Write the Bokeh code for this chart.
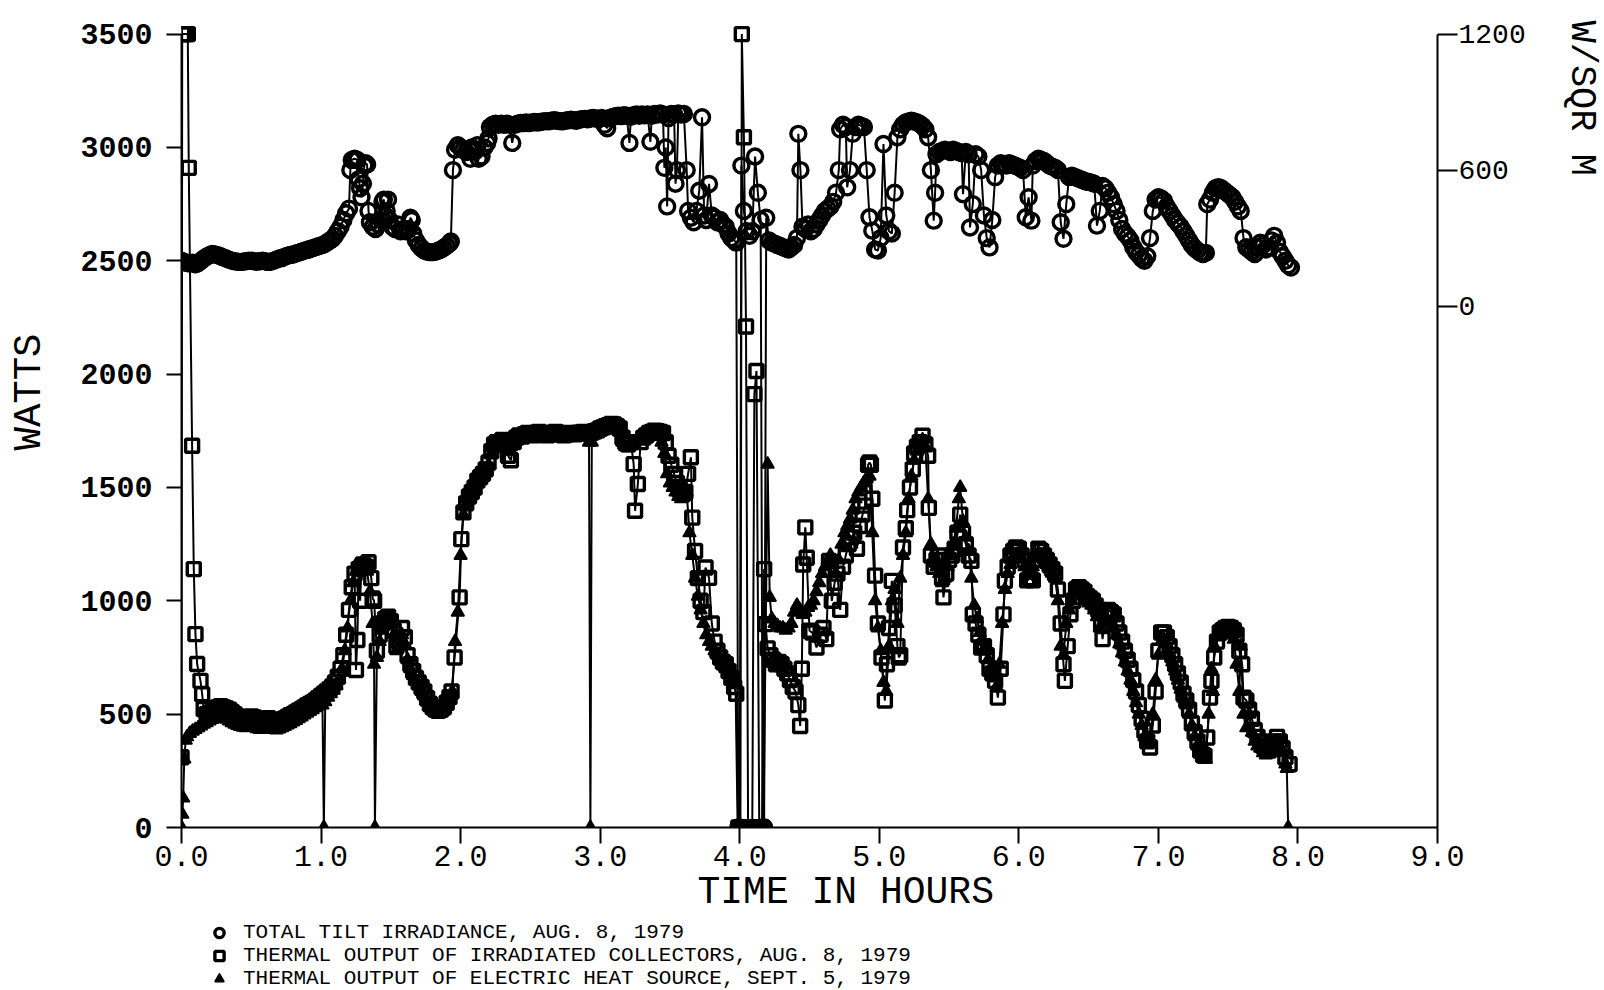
from bokeh.plotting import figure
from bokeh.layouts import column
from bokeh.models import Range1d, LinearAxis, FixedTicker, Legend, LegendItem, Title
from bokeh.embed import file_html
from bokeh.resources import INLINE

# ---------------- data ----------------
# Total tilt irradiance, Aug. 8 1979  (hours, W/sq m); -2300 = samples plotted at chart zero
irr_pts = [
    (0.00, 200), (0.02, 195), (0.04, 190), (0.06, 188), (0.08, 192), (0.10, 185), (0.12, 190), (0.14, 200),
    (0.16, 210), (0.18, 218), (0.20, 225), (0.22, 230), (0.24, 228), (0.26, 225), (0.28, 220), (0.30, 215),
    (0.32, 210), (0.34, 205), (0.36, 200), (0.38, 198), (0.40, 196), (0.42, 195), (0.44, 196), (0.46, 198),
    (0.48, 200), (0.50, 200), (0.52, 198), (0.54, 196), (0.56, 198), (0.58, 200), (0.60, 198), (0.62, 195),
    (0.64, 196), (0.66, 200), (0.68, 205), (0.70, 210), (0.72, 212), (0.74, 218), (0.76, 222), (0.78, 226),
    (0.80, 228), (0.82, 232), (0.84, 236), (0.86, 240), (0.88, 244), (0.90, 248), (0.92, 252), (0.94, 256),
    (0.96, 260), (0.98, 264), (1.00, 268), (1.02, 272), (1.04, 280), (1.06, 288), (1.08, 296), (1.10, 310),
    (1.12, 330), (1.14, 350), (1.16, 380), (1.18, 410), (1.20, 430), (1.21, 600), (1.22, 645), (1.24, 650),
    (1.26, 645), (1.27, 560), (1.28, 520), (1.29, 480), (1.30, 540), (1.31, 620), (1.32, 630), (1.33, 625),
    (1.34, 420), (1.35, 370), (1.37, 350), (1.39, 340), (1.41, 360), (1.43, 380), (1.44, 460), (1.45, 470),
    (1.46, 400), (1.47, 420), (1.48, 470), (1.49, 380), (1.51, 350), (1.53, 340), (1.55, 360), (1.57, 330),
    (1.59, 340), (1.61, 330), (1.63, 340), (1.64, 390), (1.65, 380), (1.66, 320), (1.68, 290), (1.70, 270),
    (1.72, 255), (1.74, 245), (1.76, 240), (1.78, 238), (1.80, 238), (1.82, 240), (1.84, 244), (1.86, 250),
    (1.88, 258), (1.90, 266), (1.92, 276), (1.93, 285), (1.945, 600), (1.96, 690), (1.98, 710), (2.00, 700),
    (2.02, 690), (2.04, 680), (2.06, 690), (2.07, 650), (2.08, 700), (2.10, 690), (2.12, 710), (2.13, 650),
    (2.15, 660), (2.17, 700), (2.19, 720), (2.20, 740), (2.21, 790), (2.23, 800), (2.25, 805), (2.27, 800),
    (2.29, 805), (2.31, 800), (2.33, 805), (2.35, 800), (2.37, 720), (2.39, 800), (2.41, 805), (2.43, 808),
    (2.45, 808), (2.47, 810), (2.49, 808), (2.51, 810), (2.53, 812), (2.55, 810), (2.57, 812), (2.59, 815),
    (2.61, 816), (2.63, 815), (2.65, 818), (2.67, 820), (2.69, 818), (2.71, 816), (2.73, 815), (2.75, 818),
    (2.77, 820), (2.79, 822), (2.81, 820), (2.83, 818), (2.85, 822), (2.87, 825), (2.89, 826), (2.91, 824),
    (2.93, 828), (2.95, 830), (2.97, 828), (2.99, 826), (3.01, 830), (3.03, 800), (3.05, 785), (3.07, 830),
    (3.09, 835), (3.11, 838), (3.13, 840), (3.15, 838), (3.17, 842), (3.19, 840), (3.21, 720), (3.22, 835),
    (3.24, 842), (3.26, 845), (3.28, 840), (3.30, 845), (3.32, 842), (3.34, 845), (3.36, 725), (3.37, 840),
    (3.39, 848), (3.41, 845), (3.43, 850), (3.45, 845), (3.46, 610), (3.47, 700), (3.48, 440), (3.49, 830),
    (3.51, 848), (3.53, 845), (3.54, 540), (3.55, 600), (3.56, 850), (3.58, 845), (3.60, 848), (3.62, 600),
    (3.63, 420), (3.65, 390), (3.67, 370), (3.69, 420), (3.71, 509), (3.73, 833), (3.745, 400), (3.76, 380),
    (3.78, 539), (3.80, 400), (3.82, 390), (3.84, 370), (3.86, 380), (3.88, 360), (3.90, 350), (3.92, 320),
    (3.94, 300), (3.96, 290), (3.975, 280), (3.99, -2300), (4.00, -2300), (4.012, 620), (4.03, 420), (4.05, 330),
    (4.07, 310), (4.09, 330), (4.11, 660), (4.13, 500), (4.15, 380), (4.165, -2300), (4.175, -2300), (4.19, 390),
    (4.21, 290), (4.23, 280), (4.25, 275), (4.27, 270), (4.29, 265), (4.31, 260), (4.33, 255), (4.35, 250),
    (4.37, 260), (4.39, 270), (4.41, 300), (4.42, 760), (4.435, 600), (4.45, 350), (4.47, 340), (4.49, 360),
    (4.51, 330), (4.53, 340), (4.55, 360), (4.57, 380), (4.59, 400), (4.61, 420), (4.63, 430), (4.65, 440),
    (4.67, 460), (4.69, 500), (4.71, 600), (4.72, 780), (4.74, 800), (4.76, 790), (4.77, 524), (4.79, 600),
    (4.81, 760), (4.83, 790), (4.85, 800), (4.87, 795), (4.89, 790), (4.91, 600), (4.93, 392), (4.95, 333),
    (4.97, 250), (4.99, 245), (5.01, 300), (5.03, 715), (5.05, 400), (5.07, 330), (5.09, 320), (5.11, 500),
    (5.13, 745), (5.15, 780), (5.17, 800), (5.19, 810), (5.21, 815), (5.23, 818), (5.25, 815), (5.27, 810),
    (5.29, 805), (5.31, 795), (5.33, 780), (5.35, 745), (5.37, 600), (5.39, 377), (5.40, 500), (5.41, 670),
    (5.43, 680), (5.45, 685), (5.47, 690), (5.49, 685), (5.51, 680), (5.53, 690), (5.55, 685), (5.57, 680),
    (5.59, 675), (5.60, 494), (5.62, 680), (5.64, 670), (5.65, 347), (5.67, 450), (5.69, 670), (5.71, 660),
    (5.73, 600), (5.75, 400), (5.77, 300), (5.79, 259), (5.81, 380), (5.83, 569), (5.85, 620), (5.87, 630),
    (5.89, 625), (5.91, 620), (5.93, 630), (5.95, 625), (5.97, 620), (5.99, 615), (6.01, 610), (6.03, 600),
    (6.05, 392), (6.07, 480), (6.09, 377), (6.10, 620), (6.12, 640), (6.14, 650), (6.16, 645), (6.18, 640),
    (6.20, 630), (6.22, 620), (6.24, 615), (6.26, 610), (6.28, 600), (6.30, 370), (6.32, 297), (6.34, 450),
    (6.36, 570), (6.38, 575), (6.40, 570), (6.42, 565), (6.44, 560), (6.46, 555), (6.48, 550), (6.50, 548),
    (6.52, 545), (6.54, 540), (6.56, 355), (6.58, 420), (6.60, 530), (6.62, 520), (6.64, 500), (6.66, 480),
    (6.68, 450), (6.70, 420), (6.72, 380), (6.74, 340), (6.76, 320), (6.78, 307), (6.80, 290), (6.82, 260),
    (6.84, 240), (6.86, 225), (6.88, 210), (6.90, 200), (6.92, 220), (6.94, 300), (6.96, 420), (6.98, 470),
    (7.00, 480), (7.02, 475), (7.04, 465), (7.06, 440), (7.08, 420), (7.10, 400), (7.12, 380), (7.14, 365),
    (7.16, 350), (7.18, 330), (7.20, 310), (7.22, 290), (7.24, 270), (7.26, 255), (7.28, 245), (7.30, 235),
    (7.32, 230), (7.34, 235), (7.35, 450), (7.37, 470), (7.39, 500), (7.41, 520), (7.43, 525), (7.45, 520),
    (7.47, 510), (7.49, 500), (7.51, 490), (7.53, 480), (7.55, 460), (7.57, 440), (7.59, 420), (7.61, 300),
    (7.63, 260), (7.65, 250), (7.67, 240), (7.69, 230), (7.71, 260), (7.73, 280), (7.75, 270), (7.77, 250),
    (7.79, 260), (7.81, 290), (7.83, 310), (7.85, 280), (7.87, 240), (7.89, 220), (7.91, 200), (7.93, 180),
    (7.95, 170),
]

# Thermal output of irradiated collectors, Aug. 8 1979  (hours, watts)
col_pts = [
    (0.000, 310), (0.005, 3500), (0.020, 3500), (0.035, 3500), (0.045, 3500), (0.052, 2910), (0.076, 1684),
    (0.088, 1140), (0.100, 853), (0.112, 721), (0.136, 647), (0.148, 588), (0.159, 522), (0.18, 500),
    (0.20, 505), (0.22, 510), (0.24, 520), (0.26, 530), (0.28, 535), (0.30, 530), (0.32, 525), (0.34, 520),
    (0.36, 510), (0.38, 500), (0.40, 490), (0.42, 485), (0.44, 480), (0.46, 478), (0.48, 482), (0.50, 490),
    (0.52, 485), (0.54, 475), (0.56, 470), (0.58, 472), (0.60, 478), (0.62, 482), (0.64, 475), (0.66, 468),
    (0.68, 465), (0.70, 470), (0.72, 475), (0.74, 480), (0.76, 488), (0.78, 495), (0.80, 500), (0.82, 508),
    (0.84, 515), (0.86, 522), (0.88, 530), (0.90, 538), (0.92, 545), (0.94, 552), (0.96, 560), (0.98, 570),
    (1.00, 580), (1.02, 590), (1.04, 600), (1.06, 610), (1.08, 622), (1.10, 640), (1.12, 665), (1.14, 700),
    (1.16, 760), (1.18, 850), (1.20, 960), (1.22, 1060), (1.24, 1120), (1.25, 695), (1.26, 827), (1.27, 1140),
    (1.28, 1000), (1.29, 1150), (1.30, 1160), (1.32, 1150), (1.34, 1170), (1.36, 1100), (1.37, 1010),
    (1.38, 1000), (1.40, 780), (1.42, 850), (1.44, 900), (1.46, 920), (1.48, 930), (1.50, 910), (1.52, 870),
    (1.54, 800), (1.56, 820), (1.58, 880), (1.60, 840), (1.62, 760), (1.64, 720), (1.66, 690), (1.68, 660),
    (1.70, 640), (1.72, 620), (1.74, 600), (1.76, 570), (1.78, 545), (1.80, 530), (1.82, 520), (1.84, 515),
    (1.86, 520), (1.88, 530), (1.90, 550), (1.92, 575), (1.935, 600), (1.957, 750), (1.993, 1015),
    (2.005, 1272), (2.02, 1390), (2.04, 1430), (2.06, 1460), (2.08, 1480), (2.10, 1500), (2.12, 1530),
    (2.14, 1545), (2.16, 1560), (2.18, 1580), (2.20, 1610), (2.22, 1660), (2.24, 1690), (2.26, 1700),
    (2.28, 1700), (2.30, 1710), (2.32, 1690), (2.34, 1640), (2.36, 1620), (2.38, 1700), (2.40, 1720),
    (2.42, 1730), (2.44, 1725), (2.46, 1735), (2.48, 1740), (2.50, 1735), (2.52, 1730), (2.54, 1740),
    (2.56, 1745), (2.58, 1740), (2.60, 1735), (2.62, 1730), (2.64, 1735), (2.66, 1740), (2.68, 1745),
    (2.70, 1740), (2.72, 1735), (2.74, 1730), (2.76, 1735), (2.78, 1740), (2.80, 1738), (2.82, 1735),
    (2.84, 1740), (2.86, 1742), (2.88, 1745), (2.90, 1740), (2.92, 1738), (2.94, 1742), (2.96, 1748),
    (2.98, 1752), (3.00, 1760), (3.02, 1765), (3.04, 1770), (3.06, 1775), (3.08, 1780), (3.10, 1778),
    (3.12, 1770), (3.14, 1760), (3.16, 1720), (3.18, 1700), (3.20, 1690), (3.22, 1700), (3.24, 1603),
    (3.25, 1397), (3.27, 1515), (3.29, 1700), (3.31, 1720), (3.33, 1730), (3.35, 1740), (3.37, 1745),
    (3.39, 1750), (3.41, 1748), (3.43, 1745), (3.45, 1740), (3.47, 1700), (3.49, 1640), (3.51, 1600),
    (3.53, 1560), (3.55, 1520), (3.57, 1490), (3.59, 1470), (3.61, 1480), (3.63, 1560), (3.65, 1633),
    (3.66, 1367), (3.68, 1220), (3.70, 1100), (3.72, 1000), (3.74, 950), (3.755, 1147), (3.78, 1101),
    (3.80, 900), (3.82, 820), (3.84, 780), (3.86, 750), (3.88, 730), (3.90, 720), (3.92, 690), (3.94, 660),
    (3.96, 620), (3.975, 590), (3.99, 0), (4.005, 0), (4.015, 3500), (4.03, 3045), (4.045, 2210), (4.06, 0),
    (4.075, 0), (4.09, 0), (4.105, 1912), (4.12, 2014), (4.14, 0), (4.16, 0), (4.175, 1140), (4.185, 897),
    (4.20, 790), (4.22, 760), (4.24, 740), (4.26, 720), (4.28, 730), (4.30, 720), (4.32, 700), (4.34, 680),
    (4.36, 650), (4.38, 620), (4.40, 600), (4.42, 540), (4.433, 448), (4.445, 700), (4.455, 1160),
    (4.47, 1324), (4.48, 1190), (4.50, 868), (4.52, 860), (4.55, 794), (4.58, 850), (4.60, 880), (4.62, 831),
    (4.64, 1176), (4.66, 1000), (4.68, 1080), (4.70, 1120), (4.72, 960), (4.74, 1150), (4.76, 1200),
    (4.78, 1250), (4.80, 1280), (4.82, 1300), (4.84, 1230), (4.86, 1330), (4.88, 1380), (4.90, 1420),
    (4.92, 1600), (4.93, 1610), (4.94, 1600), (4.95, 1450), (4.97, 1111), (4.99, 900), (5.016, 750),
    (5.04, 560), (5.055, 720), (5.07, 880), (5.09, 1088), (5.11, 980), (5.13, 800), (5.14, 750), (5.15, 760),
    (5.17, 1235), (5.19, 1320), (5.20, 1400), (5.22, 1500), (5.24, 1580), (5.25, 1650), (5.27, 1680),
    (5.29, 1700), (5.31, 1728), (5.33, 1690), (5.35, 1640), (5.355, 1410), (5.37, 1200), (5.39, 1150),
    (5.41, 1180), (5.43, 1200), (5.45, 1100), (5.46, 1015), (5.48, 1120), (5.50, 1180), (5.52, 1200),
    (5.54, 1230), (5.56, 1300), (5.58, 1380), (5.60, 1300), (5.62, 1250), (5.64, 1200), (5.66, 1176),
    (5.67, 940), (5.69, 900), (5.71, 850), (5.73, 794), (5.75, 800), (5.77, 760), (5.79, 700), (5.81, 680),
    (5.83, 647), (5.85, 573), (5.87, 700), (5.89, 940), (5.90, 1088), (5.92, 1150), (5.94, 1200),
    (5.96, 1220), (5.98, 1235), (6.00, 1230), (6.02, 1200), (6.04, 1180), (6.06, 1090), (6.08, 1100),
    (6.10, 1090), (6.12, 1180), (6.14, 1230), (6.16, 1220), (6.18, 1200), (6.20, 1180), (6.22, 1160),
    (6.24, 1140), (6.26, 1120), (6.28, 1050), (6.30, 900), (6.32, 720), (6.33, 647), (6.35, 800), (6.37, 941),
    (6.39, 1000), (6.41, 1050), (6.43, 1060), (6.45, 1050), (6.47, 1040), (6.49, 1020), (6.51, 1010),
    (6.53, 1000), (6.55, 980), (6.57, 960), (6.59, 900), (6.60, 831), (6.62, 950), (6.64, 960), (6.66, 950),
    (6.68, 940), (6.70, 900), (6.72, 860), (6.74, 820), (6.76, 780), (6.78, 740), (6.80, 700), (6.82, 650),
    (6.84, 600), (6.86, 540), (6.88, 480), (6.90, 427), (6.92, 380), (6.94, 353), (6.96, 450), (6.98, 600),
    (7.00, 780), (7.02, 860), (7.04, 860), (7.06, 840), (7.08, 800), (7.10, 760), (7.12, 720), (7.14, 680),
    (7.16, 640), (7.18, 590), (7.20, 560), (7.22, 520), (7.24, 460), (7.26, 420), (7.28, 380), (7.30, 340),
    (7.32, 320), (7.33, 316), (7.35, 397), (7.37, 573), (7.38, 647), (7.40, 750), (7.42, 820), (7.44, 860),
    (7.46, 870), (7.48, 880), (7.50, 885), (7.52, 880), (7.54, 870), (7.56, 850), (7.58, 780), (7.60, 720),
    (7.61, 573), (7.63, 560), (7.65, 520), (7.67, 480), (7.69, 430), (7.71, 400), (7.73, 380), (7.75, 360),
    (7.77, 350), (7.79, 340), (7.81, 360), (7.83, 380), (7.85, 400), (7.87, 380), (7.89, 350), (7.91, 310),
    (7.94, 279),
]

# Thermal output of electric heat source, Sept. 5 1979  (hours, watts)
ele_pts = [
    (0.00, 0), (0.006, 58), (0.012, 130), (0.02, 302), (0.03, 385), (0.04, 400), (0.06, 415), (0.08, 425),
    (0.10, 432), (0.12, 440), (0.14, 448), (0.16, 455), (0.18, 462), (0.20, 470), (0.22, 476), (0.24, 482),
    (0.26, 486), (0.28, 488), (0.30, 485), (0.32, 478), (0.34, 470), (0.36, 462), (0.38, 455), (0.40, 450),
    (0.42, 446), (0.44, 442), (0.46, 440), (0.48, 442), (0.50, 446), (0.52, 442), (0.54, 436), (0.56, 432),
    (0.58, 434), (0.60, 438), (0.62, 440), (0.64, 436), (0.66, 432), (0.68, 430), (0.70, 434), (0.72, 440),
    (0.74, 446), (0.76, 452), (0.78, 458), (0.80, 465), (0.82, 472), (0.84, 480), (0.86, 488), (0.88, 496),
    (0.90, 504), (0.92, 512), (0.94, 520), (0.96, 528), (0.98, 536), (1.00, 545), (1.01, 540), (1.02, 0),
    (1.03, 555), (1.05, 575), (1.07, 590), (1.09, 605), (1.11, 625), (1.13, 655), (1.15, 700), (1.17, 780),
    (1.19, 880), (1.21, 1000), (1.23, 1080), (1.25, 1130), (1.27, 1150), (1.29, 1140), (1.31, 1150),
    (1.33, 1130), (1.35, 1040), (1.37, 900), (1.38, 720), (1.386, 0), (1.40, 750), (1.42, 820), (1.44, 870),
    (1.46, 900), (1.48, 910), (1.50, 890), (1.52, 850), (1.54, 780), (1.56, 800), (1.58, 850), (1.60, 810),
    (1.62, 740), (1.64, 700), (1.66, 670), (1.68, 645), (1.70, 625), (1.72, 600), (1.74, 580), (1.76, 555),
    (1.78, 535), (1.80, 520), (1.82, 510), (1.84, 505), (1.86, 510), (1.88, 520), (1.90, 535), (1.92, 560),
    (1.94, 600), (1.96, 820), (1.98, 950), (2.00, 1200), (2.02, 1380), (2.04, 1420), (2.06, 1450),
    (2.08, 1470), (2.10, 1490), (2.12, 1520), (2.14, 1540), (2.16, 1555), (2.18, 1575), (2.20, 1600),
    (2.22, 1650), (2.24, 1680), (2.26, 1690), (2.28, 1695), (2.30, 1700), (2.32, 1680), (2.34, 1660),
    (2.36, 1680), (2.38, 1690), (2.40, 1710), (2.42, 1720), (2.44, 1715), (2.46, 1725), (2.48, 1730),
    (2.50, 1725), (2.52, 1720), (2.54, 1730), (2.56, 1735), (2.58, 1730), (2.60, 1725), (2.62, 1720),
    (2.64, 1725), (2.66, 1730), (2.68, 1735), (2.70, 1730), (2.72, 1725), (2.74, 1720), (2.76, 1725),
    (2.78, 1730), (2.80, 1728), (2.82, 1725), (2.84, 1730), (2.86, 1732), (2.88, 1735), (2.90, 1730),
    (2.92, 1700), (2.93, 0), (2.94, 1700), (2.96, 1738), (2.98, 1742), (3.00, 1750), (3.02, 1755),
    (3.04, 1760), (3.06, 1765), (3.08, 1770), (3.10, 1768), (3.12, 1760), (3.14, 1750), (3.16, 1700),
    (3.18, 1680), (3.20, 1675), (3.22, 1690), (3.24, 1700), (3.26, 1710), (3.28, 1720), (3.30, 1730),
    (3.32, 1735), (3.34, 1740), (3.36, 1745), (3.38, 1740), (3.40, 1735), (3.42, 1730), (3.44, 1700),
    (3.46, 1650), (3.48, 1560), (3.50, 1520), (3.52, 1500), (3.54, 1480), (3.56, 1460), (3.58, 1450),
    (3.60, 1460), (3.62, 1480), (3.64, 1300), (3.66, 1200), (3.68, 1100), (3.70, 1020), (3.72, 960),
    (3.74, 900), (3.76, 850), (3.78, 820), (3.80, 800), (3.82, 780), (3.84, 760), (3.86, 740), (3.88, 720),
    (3.90, 700), (3.92, 680), (3.94, 650), (3.96, 640), (3.97, 630), (3.985, 0), (4.00, 0), (4.03, 0),
    (4.06, 0), (4.09, 0), (4.12, 0), (4.15, 0), (4.17, 0), (4.20, 1603), (4.215, 1015), (4.23, 920),
    (4.25, 900), (4.27, 890), (4.29, 880), (4.31, 880), (4.33, 870), (4.35, 880), (4.37, 900), (4.39, 950),
    (4.41, 980), (4.43, 960), (4.45, 940), (4.47, 950), (4.49, 970), (4.51, 980), (4.53, 1000), (4.55, 1040),
    (4.57, 1080), (4.59, 1120), (4.61, 1150), (4.63, 1180), (4.65, 1200), (4.67, 1160), (4.69, 1120),
    (4.71, 1180), (4.73, 1250), (4.75, 1300), (4.77, 1330), (4.79, 1360), (4.81, 1400), (4.83, 1450),
    (4.85, 1480), (4.87, 1500), (4.89, 1520), (4.91, 1540), (4.93, 1550), (4.95, 1300), (4.97, 1000),
    (4.99, 880), (5.01, 780), (5.03, 640), (5.05, 600), (5.07, 800), (5.09, 1000), (5.11, 1050), (5.13, 900),
    (5.15, 1100), (5.17, 1200), (5.19, 1300), (5.21, 1450), (5.23, 1550), (5.25, 1620), (5.27, 1660),
    (5.29, 1690), (5.31, 1710), (5.33, 1680), (5.35, 1450), (5.37, 1250), (5.39, 1180), (5.41, 1150),
    (5.43, 1120), (5.45, 1080), (5.47, 1100), (5.49, 1150), (5.51, 1200), (5.53, 1250), (5.55, 1320),
    (5.57, 1450), (5.58, 1500), (5.60, 1350), (5.62, 1280), (5.64, 1220), (5.66, 1100), (5.68, 980),
    (5.70, 920), (5.72, 860), (5.74, 820), (5.76, 780), (5.78, 740), (5.80, 700), (5.82, 660), (5.84, 620),
    (5.86, 720), (5.88, 900), (5.90, 1050), (5.92, 1120), (5.94, 1160), (5.96, 1190), (5.98, 1200),
    (6.00, 1210), (6.02, 1190), (6.04, 1150), (6.06, 1120), (6.08, 1140), (6.10, 1150), (6.12, 1200),
    (6.14, 1210), (6.16, 1200), (6.18, 1180), (6.20, 1160), (6.22, 1140), (6.24, 1120), (6.26, 1100),
    (6.28, 1000), (6.30, 800), (6.32, 760), (6.34, 900), (6.36, 960), (6.38, 1000), (6.40, 1030),
    (6.42, 1040), (6.44, 1030), (6.46, 1020), (6.48, 1000), (6.50, 990), (6.52, 980), (6.54, 960),
    (6.56, 930), (6.58, 880), (6.60, 900), (6.62, 920), (6.64, 910), (6.66, 900), (6.68, 880), (6.70, 850),
    (6.72, 810), (6.74, 770), (6.76, 730), (6.78, 690), (6.80, 650), (6.82, 600), (6.84, 550), (6.86, 500),
    (6.88, 450), (6.90, 400), (6.92, 370), (6.94, 390), (6.96, 500), (6.98, 650), (7.00, 760), (7.02, 820),
    (7.04, 830), (7.06, 810), (7.08, 770), (7.10, 730), (7.12, 690), (7.14, 650), (7.16, 610), (7.18, 570),
    (7.20, 540), (7.22, 500), (7.24, 450), (7.26, 400), (7.28, 360), (7.30, 330), (7.32, 310), (7.34, 300),
    (7.36, 500), (7.38, 700), (7.39, 600), (7.40, 800), (7.42, 840), (7.44, 850), (7.46, 860), (7.48, 870),
    (7.50, 860), (7.52, 850), (7.54, 830), (7.56, 720), (7.58, 600), (7.59, 800), (7.61, 500), (7.63, 440),
    (7.65, 500), (7.67, 420), (7.69, 380), (7.71, 360), (7.73, 350), (7.75, 330), (7.77, 320), (7.79, 330),
    (7.81, 350), (7.83, 370), (7.85, 380), (7.87, 360), (7.89, 330), (7.91, 280), (7.92, 260), (7.93, 0),
]

irr_hours = [a for a, b in irr_pts]
irr_wm2 = [b for a, b in irr_pts]
col_hours = [a for a, b in col_pts]
col_watts = [b for a, b in col_pts]
ele_hours = [a for a, b in ele_pts]
ele_watts = [b for a, b in ele_pts]

hour_ticks = [0, 1, 2, 3, 4, 5, 6, 7, 8, 9]
hour_labels = ["0.0", "1.0", "2.0", "3.0", "4.0", "5.0", "6.0", "7.0", "8.0", "9.0"]
watt_ticks = [0, 500, 1000, 1500, 2000, 2500, 3000, 3500]
irr_ticks = [0, 600, 1200]
IRR_OFFSET = 2300   # 0 W/sq m sits at 2300 W on the left scale

legend_texts = [
    "TOTAL TILT IRRADIANCE, AUG. 8, 1979",
    "THERMAL OUTPUT OF IRRADIATED COLLECTORS, AUG. 8, 1979",
    "THERMAL OUTPUT OF ELECTRIC HEAT SOURCE, SEPT. 5, 1979",
]

FONT = "Liberation Mono"
Y_TOP = 3560
W = 1604
MAIN_H = 918
KEY_H = 72

# ---------------- main chart ----------------
p = figure(width=W, height=MAIN_H, x_range=Range1d(0, 9), y_range=Range1d(0, Y_TOP),
           output_backend="svg", toolbar_location=None, x_axis_type=None, y_axis_type=None,
           min_border_left=181, min_border_right=164, min_border_top=20, min_border_bottom=91)
p.extra_y_ranges = {"irr": Range1d(-IRR_OFFSET, Y_TOP - IRR_OFFSET)}
p.outline_line_color = None
p.grid.visible = False

common = dict(axis_line_width=2, major_tick_line_width=2, axis_line_color="black",
              major_tick_line_color="black", major_label_text_color="black",
              major_tick_in=0, major_label_text_font=FONT)
# a blank axis label only widens the axis band so the side titles sit further out
spacer = dict(axis_label=" ", axis_label_text_font_size="10px", axis_label_text_alpha=0)

# left axis + its title
yax = LinearAxis(ticker=FixedTicker(ticks=watt_ticks), bounds=(0, 3500), major_tick_out=15,
                 major_label_text_font_size="30px", major_label_text_font_style="bold",
                 major_label_standoff=14, axis_label_standoff=7, **spacer, **common)
p.add_layout(yax, "left")
p.add_layout(Title(text="WATTS", align="left", offset=377, standoff=10, text_font=FONT,
                   text_font_size="39px", text_font_style="normal", text_color="black"), "left")

# bottom axis + its title
xax = LinearAxis(ticker=FixedTicker(ticks=hour_ticks), major_tick_out=16,
                 major_label_overrides={t: s for t, s in zip(hour_ticks, hour_labels)},
                 major_label_text_font_size="30px", major_label_standoff=2, **common)
p.add_layout(xax, "below")
p.add_layout(Title(text="TIME IN HOURS", align="left", offset=516, standoff=0, text_font=FONT,
                   text_font_size="38px", text_font_style="normal", text_color="black"), "below")

# right axis (W/sq m) + its title
rax = LinearAxis(y_range_name="irr", ticker=FixedTicker(ticks=irr_ticks), bounds=(-IRR_OFFSET, 1200),
                 major_tick_out=20, major_label_text_font_size="28px", major_label_standoff=1,
                 axis_label_standoff=18, **spacer, **common)
p.add_layout(rax, "right")
p.add_layout(Title(text="W/SQR M", align="left", standoff=0, text_font=FONT,
                   text_font_size="37px", text_font_style="normal", text_color="black"), "right")

# series
LW = 2.0
p.line(irr_hours, irr_wm2, y_range_name="irr", line_color="black", line_width=LW)
p.line(col_hours, col_watts, line_color="black", line_width=LW)
p.line(ele_hours, ele_watts, line_color="black", line_width=LW)

irr_style = dict(marker="circle", line_color="black", line_width=3.4, fill_alpha=0)
col_style = dict(marker="square", line_color="black", line_width=3.4, fill_alpha=0)
ele_style = dict(marker="triangle", line_color="black", line_width=1.5, fill_color="black")
p.scatter(irr_hours, irr_wm2, y_range_name="irr", size=15, **irr_style)
p.scatter(col_hours, col_watts, size=13, **col_style)
p.scatter(ele_hours, ele_watts, size=13, **ele_style)

# ---------------- key strip under the chart ----------------
# the key's symbol renderers carry one sample each, which lies outside this strip's ranges
k = figure(width=W, height=KEY_H, x_range=Range1d(0, 1), y_range=Range1d(0, 1),
           output_backend="svg", toolbar_location=None, x_axis_type=None, y_axis_type=None,
           min_border=0)
k.outline_line_color = None
key_r = [k.scatter(irr_hours[:1], irr_wm2[:1], size=10, **irr_style),
         k.scatter(col_hours[:1], col_watts[:1], size=10, **col_style),
         k.scatter(ele_hours[1:2], ele_watts[1:2], size=10, **ele_style)]
legend = Legend(items=[LegendItem(label=t, renderers=[r]) for t, r in zip(legend_texts, key_r)],
                location=(21, 0), orientation="vertical", glyph_width=34, glyph_height=23,
                label_standoff=7, padding=0, margin=0, spacing=0,
                border_line_alpha=0, background_fill_alpha=0,
                label_text_font=FONT, label_text_font_size="21px", label_text_color="black")
k.add_layout(legend)

open("out.html", "w").write(file_html(column(p, k, spacing=0), INLINE))
